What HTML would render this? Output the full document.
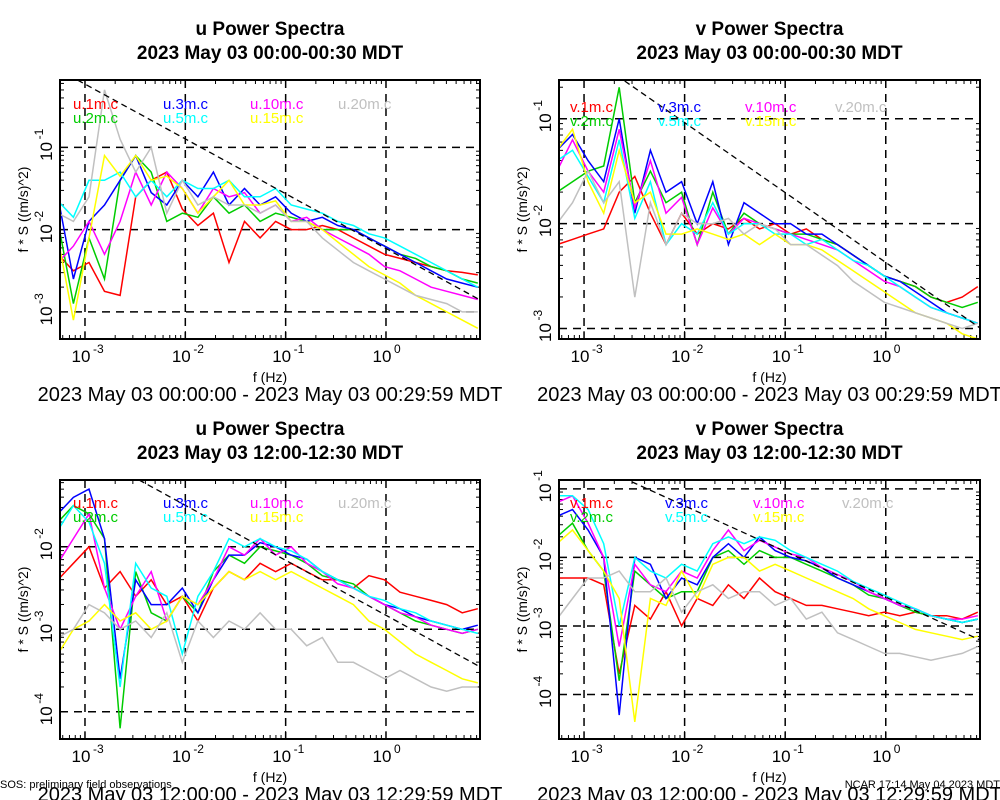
<!DOCTYPE html>
<html><head><meta charset="utf-8"><style>
html,body{margin:0;padding:0;background:#fff;}
svg{display:block;font-family:"Liberation Sans",Arial,sans-serif;}
</style></head><body>
<svg id="root" width="1000" height="800" viewBox="0 0 1000 800"></svg>
<script>
// Shared frequency axis (log10 Hz)
const freqLog = [-3.27,-3.115,-2.96,-2.805,-2.65,-2.495,-2.34,-2.185,-2.03,-1.875,-1.72,-1.565,-1.41,-1.255,-1.1,-0.945,-0.79,-0.635,-0.48,-0.325,-0.17,-0.015,0.14,0.295,0.45,0.605,0.76,0.915];
const seriesColors = ["#ff0000","#00cc00","#0000ff","#ff00ff","#00ffff","#ffff00","#c0c0c0"];
const uNames = ["u.1m.c","u.2m.c","u.3m.c","u.10m.c","u.5m.c","u.15m.c","u.20m.c"];
const vNames = ["v.1m.c","v.2m.c","v.3m.c","v.10m.c","v.5m.c","v.15m.c","v.20m.c"];
// log10 power values, order: 1m,2m,3m,10m,5m,15m,20m
const p1 = [
[-2.3,-2.5,-2.4,-2.75,-2.8,-1.6,-1.4,-1.3,-1.75,-1.95,-1.8,-2.4,-1.9,-2.1,-1.9,-2.0,-2.0,-1.95,-2.0,-2.1,-2.2,-2.3,-2.35,-2.4,-2.45,-2.5,-2.52,-2.55],
[-1.9,-2.9,-2.1,-2.6,-1.4,-1.1,-1.3,-1.9,-1.8,-1.85,-1.6,-1.8,-1.7,-1.9,-1.8,-1.85,-1.9,-2.0,-2.0,-2.0,-2.1,-2.2,-2.3,-2.35,-2.45,-2.5,-2.6,-2.65],
[-1.6,-2.6,-1.9,-1.7,-1.4,-1.1,-1.55,-1.7,-1.4,-1.6,-1.3,-1.7,-1.5,-1.7,-1.6,-1.8,-1.9,-1.85,-1.95,-2.0,-2.1,-2.2,-2.3,-2.4,-2.5,-2.6,-2.65,-2.7],
[-2.4,-2.2,-1.9,-2.3,-1.9,-1.3,-1.7,-1.3,-1.5,-1.8,-1.5,-1.6,-1.55,-1.8,-1.7,-1.9,-1.85,-2.0,-2.1,-2.2,-2.3,-2.45,-2.5,-2.6,-2.7,-2.75,-2.8,-2.85],
[-1.65,-1.85,-1.4,-1.4,-1.3,-1.6,-1.4,-1.6,-1.4,-1.5,-1.5,-1.4,-1.6,-1.6,-1.5,-1.7,-1.75,-1.8,-1.9,-1.95,-2.05,-2.1,-2.2,-2.3,-2.4,-2.5,-2.6,-2.7],
[-2.1,-3.1,-2.1,-1.1,-1.35,-1.1,-1.4,-1.35,-1.5,-1.8,-1.6,-1.4,-1.7,-1.7,-1.65,-1.9,-1.9,-2.0,-2.15,-2.3,-2.45,-2.55,-2.65,-2.8,-2.9,-3.0,-3.1,-3.2],
[-1.8,-1.9,-1.6,-0.3,-0.9,-1.3,-1.0,-1.8,-1.4,-1.7,-1.6,-1.7,-1.7,-1.8,-1.7,-1.9,-1.9,-2.1,-2.25,-2.4,-2.5,-2.6,-2.7,-2.8,-2.85,-2.9,-3.0,-3.0]];
const p2 = [
[-2.2,-2.15,-2.1,-2.05,-1.7,-1.55,-1.9,-2.2,-1.9,-2.1,-2.0,-2.05,-1.95,-2.05,-2.0,-2.1,-2.05,-2.15,-2.2,-2.3,-2.4,-2.5,-2.55,-2.6,-2.7,-2.75,-2.7,-2.6],
[-1.7,-1.6,-1.5,-1.45,-0.7,-1.8,-1.5,-1.8,-1.7,-2.2,-1.7,-2.1,-1.9,-2.0,-2.05,-2.1,-2.1,-2.15,-2.2,-2.3,-2.4,-2.5,-2.55,-2.6,-2.7,-2.75,-2.8,-2.75],
[-1.3,-1.15,-1.4,-1.6,-1.0,-1.9,-1.3,-1.7,-1.6,-2.0,-1.6,-2.2,-1.8,-1.9,-2.0,-2.0,-2.1,-2.1,-2.2,-2.3,-2.4,-2.5,-2.55,-2.65,-2.75,-2.85,-2.9,-2.95],
[-1.5,-1.2,-1.5,-1.7,-1.1,-1.85,-1.4,-1.9,-1.75,-2.2,-1.85,-2.1,-1.95,-2.0,-2.05,-2.1,-2.15,-2.2,-2.25,-2.35,-2.45,-2.55,-2.6,-2.7,-2.8,-2.85,-2.9,-2.95],
[-1.4,-1.3,-1.55,-1.8,-1.2,-1.95,-1.6,-2.2,-2.0,-2.1,-1.8,-2.1,-2.0,-2.0,-2.1,-2.1,-2.2,-2.15,-2.25,-2.35,-2.4,-2.5,-2.6,-2.7,-2.8,-2.85,-2.9,-2.95],
[-1.3,-1.1,-1.6,-1.9,-1.3,-1.8,-1.7,-2.1,-2.1,-2.05,-2.1,-2.15,-2.1,-2.2,-2.1,-2.2,-2.2,-2.25,-2.35,-2.45,-2.55,-2.65,-2.75,-2.85,-2.9,-2.95,-3.05,-3.1],
[-2.0,-1.8,-1.5,-1.8,-1.6,-2.7,-1.8,-2.2,-1.9,-2.0,-2.0,-1.95,-2.1,-2.0,-2.05,-2.2,-2.2,-2.3,-2.4,-2.55,-2.65,-2.75,-2.8,-2.85,-2.9,-2.95,-3.0,-2.95]];
const p3 = [
[-2.4,-2.2,-2.0,-2.5,-2.3,-2.6,-2.4,-2.7,-2.6,-2.9,-2.5,-2.3,-2.4,-2.2,-2.3,-2.2,-2.3,-2.4,-2.4,-2.5,-2.35,-2.4,-2.55,-2.6,-2.65,-2.7,-2.8,-2.75],
[-1.7,-1.5,-1.6,-1.9,-4.2,-2.3,-2.8,-2.9,-2.6,-2.8,-2.3,-2.1,-2.2,-2.0,-2.05,-2.1,-2.2,-2.35,-2.4,-2.45,-2.6,-2.7,-2.8,-2.9,-2.95,-3.0,-3.05,-3.0],
[-1.6,-1.4,-1.3,-1.9,-3.6,-2.4,-2.7,-2.7,-2.5,-2.8,-2.4,-2.1,-2.1,-1.95,-2.0,-2.1,-2.15,-2.3,-2.4,-2.5,-2.6,-2.7,-2.75,-2.85,-2.9,-2.95,-3.0,-2.95],
[-2.2,-1.9,-1.6,-2.5,-3.0,-2.6,-2.3,-2.9,-2.6,-2.7,-2.4,-2.0,-2.1,-1.9,-2.1,-2.0,-2.2,-2.3,-2.45,-2.5,-2.6,-2.7,-2.8,-2.85,-2.95,-3.0,-3.05,-3.0],
[-1.8,-1.5,-1.7,-2.2,-3.7,-2.2,-2.5,-2.6,-3.3,-2.6,-2.3,-1.9,-2.0,-1.9,-2.0,-2.05,-2.15,-2.3,-2.4,-2.5,-2.6,-2.65,-2.75,-2.8,-2.9,-2.95,-3.0,-3.05],
[-3.3,-3.0,-2.9,-2.7,-2.9,-2.8,-3.0,-2.9,-2.6,-2.7,-2.5,-2.3,-2.4,-2.3,-2.4,-2.3,-2.4,-2.5,-2.6,-2.7,-2.9,-3.0,-3.15,-3.3,-3.4,-3.5,-3.6,-3.65],
[-3.1,-3.0,-2.7,-2.8,-3.0,-2.9,-3.1,-2.8,-3.4,-2.9,-3.1,-2.9,-3.0,-2.8,-3.0,-3.0,-3.2,-3.1,-3.4,-3.4,-3.5,-3.6,-3.5,-3.6,-3.7,-3.75,-3.7,-3.7]];
const p4 = [
[-2.3,-2.3,-2.3,-2.4,-3.7,-2.7,-2.9,-2.5,-3.0,-2.6,-2.7,-2.4,-2.6,-2.3,-2.5,-2.6,-2.7,-2.7,-2.75,-2.8,-2.85,-2.8,-2.85,-2.8,-2.85,-2.85,-2.9,-2.8],
[-1.7,-1.5,-1.9,-2.2,-3.8,-2.2,-2.4,-2.6,-2.5,-2.5,-2.0,-1.9,-2.1,-1.9,-2.0,-2.0,-2.1,-2.2,-2.3,-2.4,-2.55,-2.6,-2.7,-2.8,-2.85,-2.9,-2.95,-2.9],
[-1.4,-1.3,-1.6,-2.0,-4.3,-2.0,-2.1,-2.6,-2.3,-2.4,-2.0,-1.8,-2.0,-1.7,-1.9,-2.0,-2.05,-2.15,-2.3,-2.4,-2.5,-2.6,-2.7,-2.75,-2.85,-2.9,-2.95,-2.9],
[-1.2,-1.1,-1.5,-2.0,-3.3,-2.1,-2.4,-2.5,-2.2,-2.3,-1.9,-1.6,-1.9,-1.75,-1.85,-1.95,-2.0,-2.15,-2.25,-2.35,-2.5,-2.6,-2.7,-2.75,-2.85,-2.9,-2.9,-2.85],
[-1.1,-1.1,-1.3,-1.8,-3.0,-2.0,-2.2,-2.3,-2.1,-2.2,-1.8,-1.7,-1.8,-1.7,-1.75,-1.9,-2.0,-2.1,-2.2,-2.35,-2.45,-2.55,-2.65,-2.75,-2.85,-2.9,-2.95,-2.9],
[-1.8,-1.6,-1.9,-2.2,-2.6,-4.4,-2.6,-2.7,-2.2,-2.6,-2.1,-2.0,-2.0,-2.2,-2.1,-2.2,-2.3,-2.4,-2.5,-2.6,-2.75,-2.85,-2.95,-3.05,-3.1,-3.15,-3.2,-3.15],
[-2.9,-2.6,-2.3,-2.3,-2.2,-2.5,-2.5,-2.3,-2.8,-2.5,-2.4,-2.6,-2.5,-2.5,-2.7,-2.6,-2.9,-2.8,-3.1,-3.2,-3.3,-3.4,-3.4,-3.45,-3.5,-3.45,-3.4,-3.3]];
const xTickExps = [-3,-2,-1,0];
const yTicks1 = [-1,-2,-3], yTicks2 = [-1,-2,-3], yTicks3 = [-2,-3,-4], yTicks4 = [-1,-2,-3,-4];
const refAtOne = [-2.23,-2.37,-2.83,-2.58]; // -2/3 slope reference line value at f=1 Hz

const NS="http://www.w3.org/2000/svg";
const root=document.getElementById('root');
function mk(tag,attrs,parent){const e=document.createElementNS(NS,tag);for(const k in attrs)e.setAttribute(k,attrs[k]);(parent||root).appendChild(e);return e;}

const panels=[
 {x0:60,x1:480,y0:80,y1:339,ymin:-3.33,ymax:-0.18,data:p1,names:uNames,ticks:yTicks1,title:"u Power Spectra",sub:"2023 May 03 00:00-00:30 MDT",date:"2023 May 03 00:00:00 - 2023 May 03 00:29:59 MDT",lx:[73,163,250,338],ly:[109,123],key:"u-top"},
 {x0:559,x1:980,y0:80,y1:339,ymin:-3.1,ymax:-0.63,data:p2,names:vNames,ticks:yTicks2,title:"v Power Spectra",sub:"2023 May 03 00:00-00:30 MDT",date:"2023 May 03 00:00:00 - 2023 May 03 00:29:59 MDT",lx:[570,658,745,835],ly:[112,126],key:"v-top"},
 {x0:60,x1:480,y0:480,y1:739,ymin:-4.33,ymax:-1.19,data:p3,names:uNames,ticks:yTicks3,title:"u Power Spectra",sub:"2023 May 03 12:00-12:30 MDT",date:"2023 May 03 12:00:00 - 2023 May 03 12:29:59 MDT",lx:[73,163,250,338],ly:[508,522],key:"u-bottom"},
 {x0:559,x1:980,y0:480,y1:739,ymin:-4.65,ymax:-0.87,data:p4,names:vNames,ticks:yTicks4,title:"v Power Spectra",sub:"2023 May 03 12:00-12:30 MDT",date:"2023 May 03 12:00:00 - 2023 May 03 12:29:59 MDT",lx:[570,665,753,842],ly:[508,522],key:"v-bottom"}];
const XMIN=-3.249,XMAX=0.937;

panels.forEach((p,pi)=>{
 const g=mk('g',{});
 
 
 const sx=v=>p.x0+(v-XMIN)/(XMAX-XMIN)*(p.x1-p.x0);
 const sy=v=>p.y1-(v-p.ymin)/(p.ymax-p.ymin)*(p.y1-p.y0);
 const cx=(p.x0+p.x1)/2;
 let t=mk('text',{x:cx,y:p.y0-45,'text-anchor':'middle','font-size':19,'font-weight':'bold'},g);t.textContent=p.title;
 
 t=mk('text',{x:cx,y:p.y0-21,'text-anchor':'middle','font-size':19,'font-weight':'bold'},g);t.textContent=p.sub;
 
 const defs=mk('clipPath',{id:'clip'+pi},g);mk('rect',{x:p.x0,y:p.y0,width:p.x1-p.x0,height:p.y1-p.y0},defs);
 xTickExps.forEach(e=>{const l=mk('line',{x1:sx(e),x2:sx(e),y1:p.y0,y2:p.y1,stroke:'#000','stroke-width':1.5,'stroke-dasharray':'8,6'},g);
  
  const tx=mk('text',{x:sx(e)-4,y:p.y1+23,'text-anchor':'middle','font-size':17},g);tx.textContent='10';
  
  mk('text',{x:sx(e)+8,y:p.y1+14,'text-anchor':'start','font-size':12},g).textContent=String(e);
  for(let m=2;m<=9;m++){const v=e+Math.log10(m);if(v<XMAX){mk('line',{x1:sx(v),x2:sx(v),y1:p.y1,y2:p.y1-4,stroke:'#000'},g);mk('line',{x1:sx(v),x2:sx(v),y1:p.y0,y2:p.y0+4,stroke:'#000'},g);}}
  mk('line',{x1:sx(e),x2:sx(e),y1:p.y1,y2:p.y1-8,stroke:'#000'},g);
 });
 for(let m=6;m<=9;m++){const v=-4+Math.log10(m);if(v>XMIN){mk('line',{x1:sx(v),x2:sx(v),y1:p.y1,y2:p.y1-4,stroke:'#000'},g);}}
 p.ticks.forEach(e=>{const y=sy(e);const l=mk('line',{x1:p.x0,x2:p.x1,y1:y,y2:y,stroke:'#000','stroke-width':1.5,'stroke-dasharray':'8,6'},g);
  
  const tg=mk('g',{transform:`translate(${p.x0-8},${y}) rotate(-90)`},g);
  const tx=mk('text',{x:-4,y:0,'text-anchor':'middle','font-size':17},tg);tx.textContent='10';
  
  mk('text',{x:8,y:-9,'font-size':12},tg).textContent=String(e);
  for(let m=2;m<=9;m++){const v=e+Math.log10(m);if(v<p.ymax&&v>p.ymin){mk('line',{x1:p.x0,x2:p.x0+4,y1:sy(v),y2:sy(v),stroke:'#000'},g);mk('line',{x1:p.x1,x2:p.x1-4,y1:sy(v),y2:sy(v),stroke:'#000'},g);}}
 });
 const sg=mk('g',{'clip-path':`url(#clip${pi})`},g);
 p.data.forEach((vals,si)=>{
  const d=vals.map((v,i)=>(i?'L':'M')+sx(freqLog[i]).toFixed(1)+','+sy(v).toFixed(1)).join('');
  const path=mk('path',{d:d,fill:'none',stroke:seriesColors[si],'stroke-width':1.5},sg);
  
  
 });
 const r=refAtOne[pi];
 const ref=mk('line',{x1:sx(XMIN),y1:sy(r+(-2/3)*XMIN),x2:sx(XMAX),y2:sy(r+(-2/3)*XMAX),stroke:'#000','stroke-width':1.3,'stroke-dasharray':'6,4'},sg);
 
 const fr=mk('rect',{x:p.x0,y:p.y0,width:p.x1-p.x0,height:p.y1-p.y0,fill:'none',stroke:'#000','stroke-width':2},g);
 
 const pos=[[0,0],[0,1],[1,0],[2,0],[1,1],[2,1],[3,0]];
 p.names.forEach((n,si)=>{const lt=mk('text',{x:p.lx[pos[si][0]],y:p.ly[pos[si][1]],'font-size':15,fill:seriesColors[si]},g);lt.textContent=n;
  });
 t=mk('text',{x:cx,y:p.y1+43,'text-anchor':'middle','font-size':14},g);t.textContent='f (Hz)';
 
 t=mk('text',{x:0,y:0,'text-anchor':'middle','font-size':14,transform:`translate(${p.x0-32},${(p.y0+p.y1)/2}) rotate(-90)`},g);t.textContent='f * S ((m/s)^2)';
 
 t=mk('text',{x:cx,y:p.y1+62,'text-anchor':'middle','font-size':20},g);t.textContent=p.date;
 
});
let f=mk('text',{x:0,y:788,'font-size':11});f.textContent='SOS: preliminary field observations';

f=mk('text',{x:1000,y:788,'font-size':11,'text-anchor':'end'});f.textContent='NCAR 17:14 May 04 2023 MDT';

</script>
</body></html>
